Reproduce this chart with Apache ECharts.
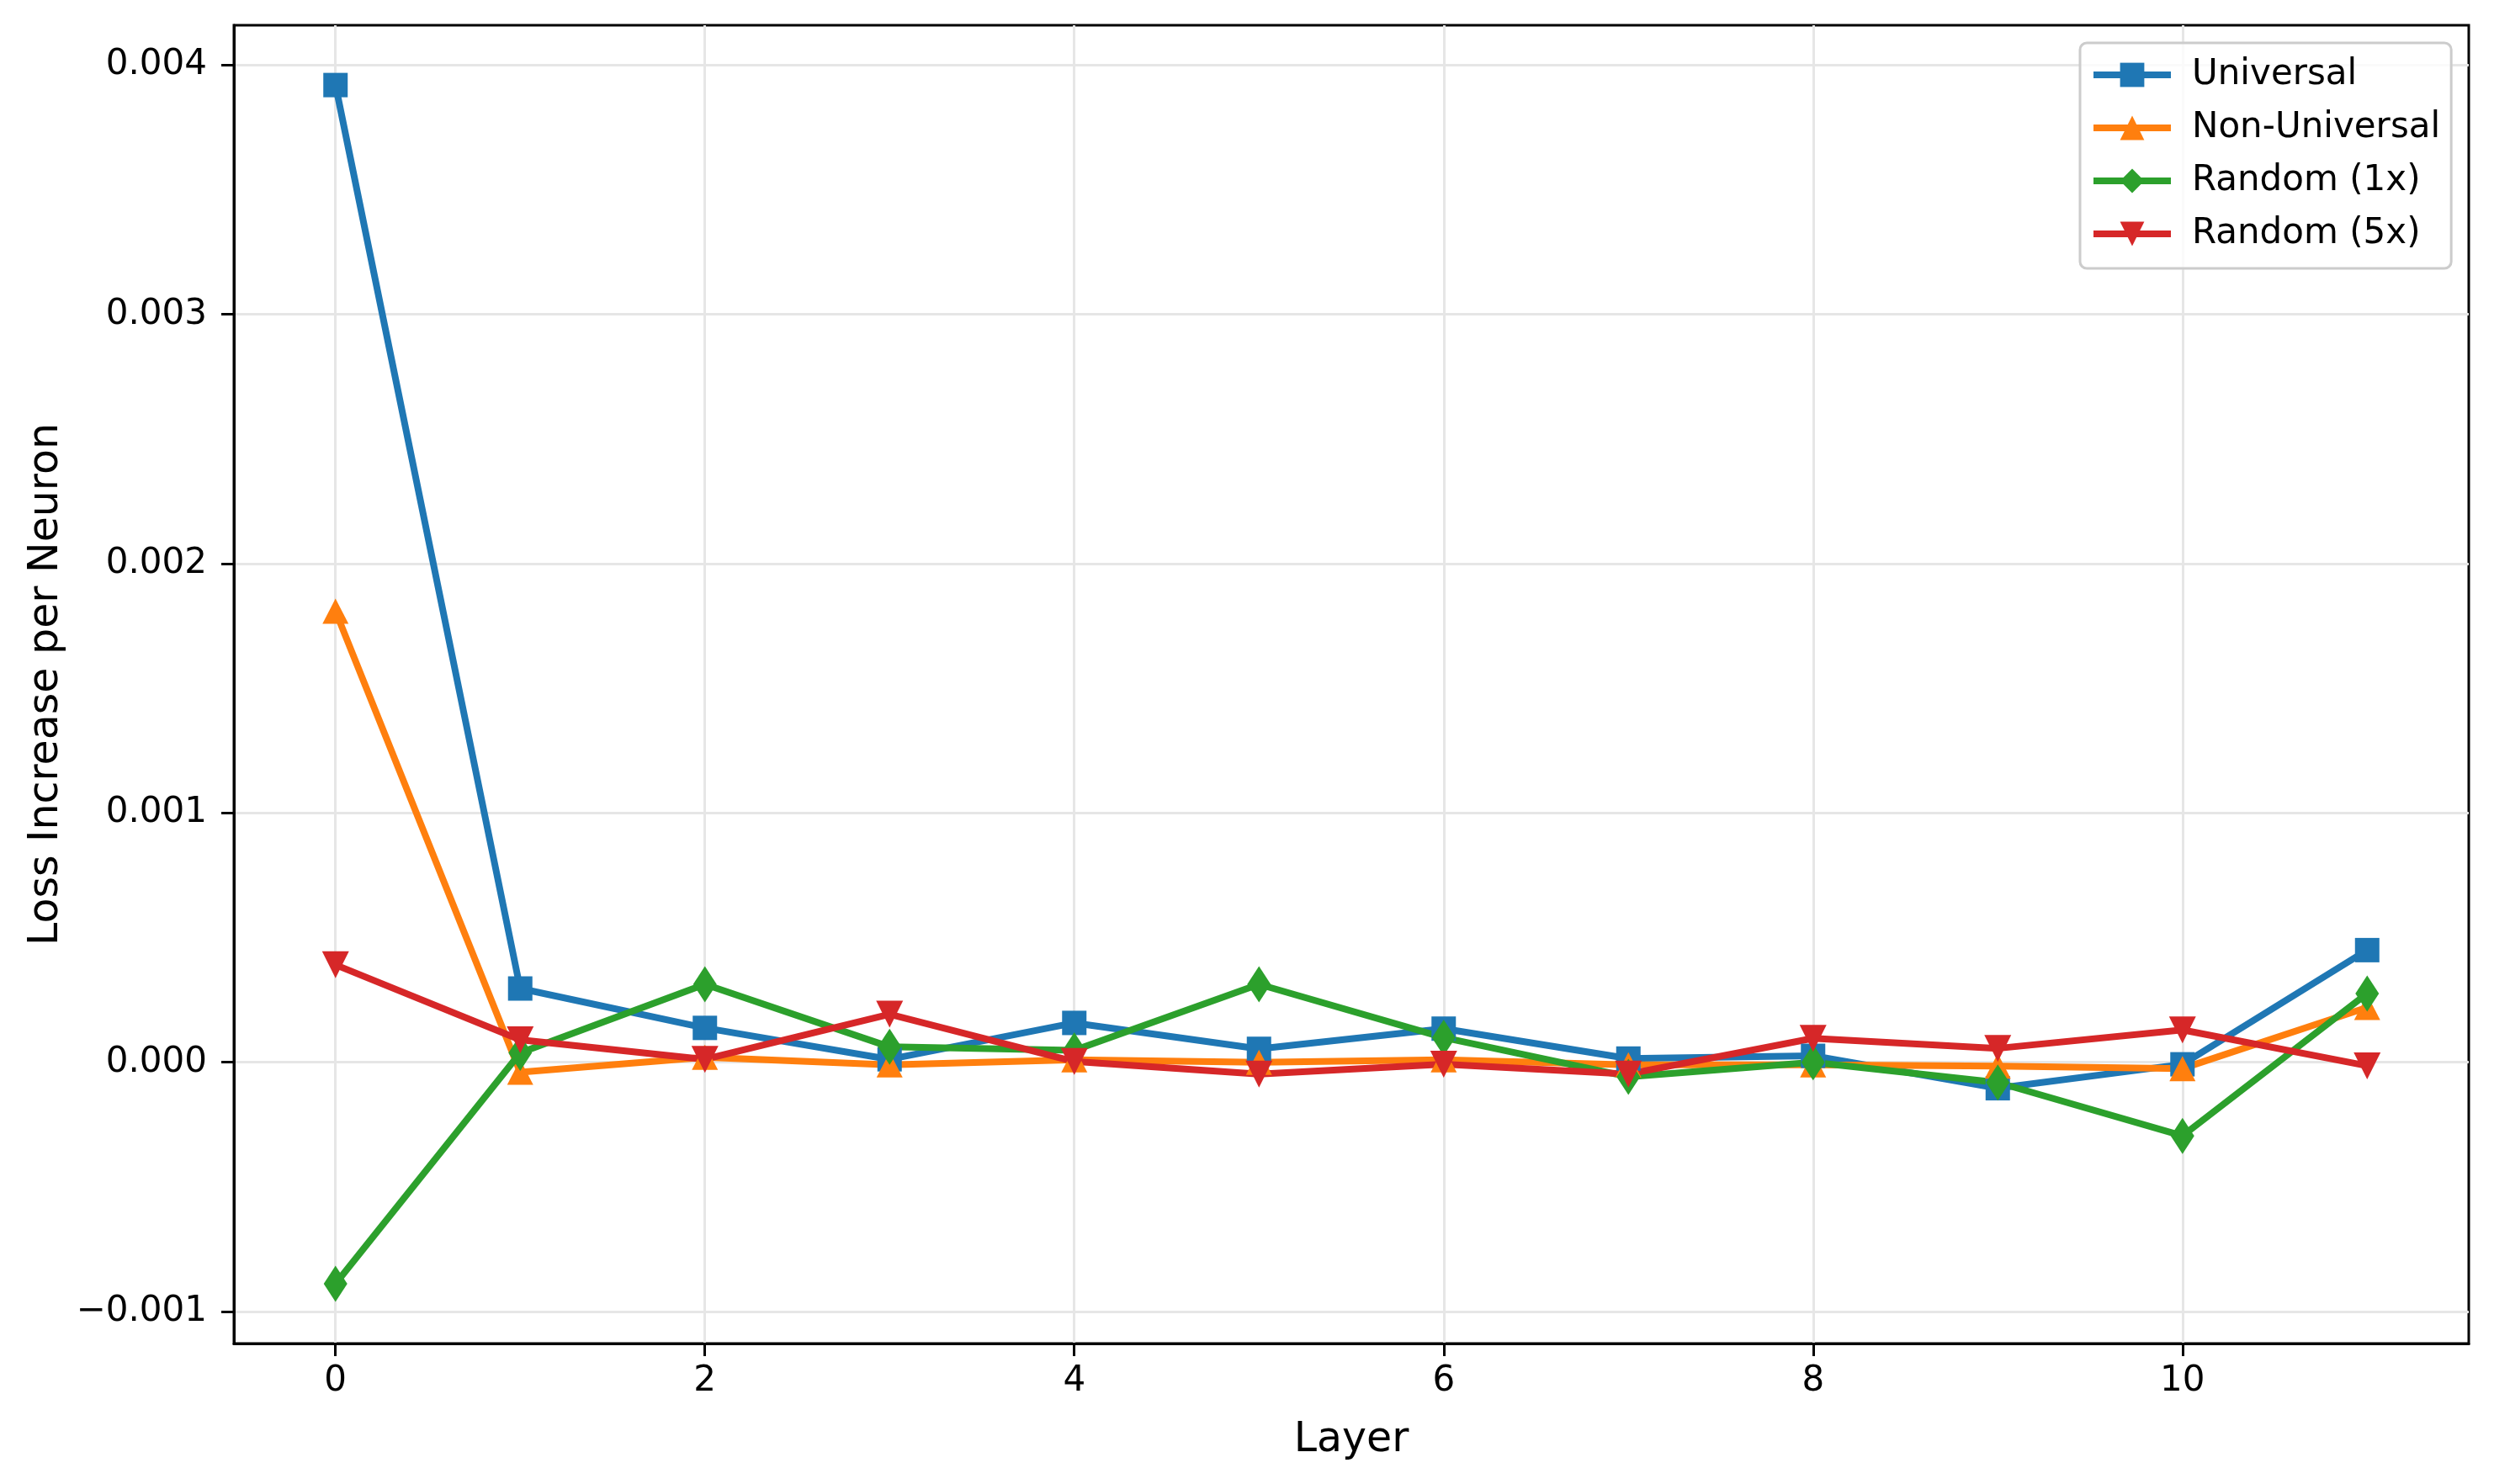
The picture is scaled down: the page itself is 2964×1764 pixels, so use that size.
<!DOCTYPE html>
<html>
<head>
<meta charset="utf-8">
<script src="https://cdn.jsdelivr.net/npm/echarts@6/dist/echarts.min.js"></script>
<style>
  html, body { margin: 0; padding: 0; background: #ffffff; }
  #chart { width: 2964px; height: 1764px; }
</style>
</head>
<body>
<div id="chart"></div>
<script>
const layers = [0, 1, 2, 3, 4, 5, 6, 7, 8, 9, 10, 11];
const xTicks = [0, 2, 4, 6, 8, 10];
const yTicks = [-0.001, 0, 0.001, 0.002, 0.003, 0.004];
const seriesNames = ['Universal', 'Non-Universal', 'Random (1x)', 'Random (5x)'];
const universal = [0.00392, 0.000296, 0.000138, 0.000012, 0.000158, 0.000054, 0.000135, 0.000015, 0.000026, -0.000104, -0.000008, 0.00045];
const nonUniversal = [0.00181, -0.00004, 0.00002, -0.00001, 0.00001, 0.0, 0.00001, -0.00001, -0.00001, -0.000015, -0.000025, 0.00022];
const random1x = [-0.000888, 0.000038, 0.000313, 0.000062, 0.000048, 0.000313, 0.000099, -0.000058, 0.0, -0.000081, -0.000295, 0.000276];
const random5x = [0.000391, 0.00009, 0.000012, 0.000193, 0.000003, -0.000047, -0.000008, -0.000047, 0.000096, 0.000056, 0.00013, -0.000014];

const FONT = 'DejaVu Sans';
const colors = ['#1f77b4', '#ff7f0e', '#2ca02c', '#d62728'];

function pairs(vals) { return layers.map((x, i) => [x, vals[i]]); }

function mkSeries(name, vals, color, symbol, size, rotate) {
  return {
    name: name,
    type: 'line',
    data: pairs(vals),
    symbol: symbol,
    symbolSize: size,
    symbolRotate: rotate || 0,
    showAllSymbol: true,
    animation: false,
    lineStyle: { color: color, width: 8, join: 'round' },
    itemStyle: { color: color, borderWidth: 0 },
    emphasis: { disabled: true }
  };
}

const chart = echarts.init(document.getElementById('chart'), null, { renderer: 'canvas' });
chart.setOption({
  animation: false,
  backgroundColor: '#ffffff',
  color: colors,
  textStyle: { fontFamily: FONT },
  grid: {
    left: 278, top: 30, right: 30, bottom: 167,
    show: true, borderColor: '#000000', borderWidth: 3, backgroundColor: 'transparent',
    outerBoundsMode: 'none'
  },
  legend: {
    orient: 'vertical',
    left: 2472, top: 51,
    padding: [17, 13, 20, 12],
    itemWidth: 92, itemHeight: 36, itemGap: 21,
    backgroundColor: 'rgba(255,255,255,0.8)',
    borderColor: '#cccccc', borderWidth: 3, borderRadius: 8,
    lineStyle: { width: 8 },
    textStyle: { fontFamily: FONT, fontSize: 42, color: '#000000', padding: [0, 0, 0, 20] },
    data: seriesNames.map((n, i) => ({ name: n, lineStyle: { width: 8, color: colors[i] } }))
  },
  xAxis: {
    type: 'value',
    min: -0.55, max: 11.55,
    name: 'Layer', nameLocation: 'middle', nameGap: 91,
    nameTextStyle: { fontFamily: FONT, fontSize: 49, color: '#000000' },
    axisLine: { show: true, onZero: false, lineStyle: { color: '#000000', width: 3 } },
    axisTick: { show: true, inside: false, length: 15, lineStyle: { color: '#000000', width: 3 }, customValues: xTicks },
    axisLabel: { show: true, fontFamily: FONT, fontSize: 42, color: '#000000', margin: 24, customValues: xTicks, formatter: v => String(v) },
    splitLine: { show: true, lineStyle: { color: '#e6e6e6', width: 3 } }
  },
  yAxis: {
    type: 'value',
    min: -0.001128, max: 0.00416,
    name: 'Loss Increase per Neuron', nameLocation: 'middle', nameGap: 198, nameRotate: 90,
    nameTextStyle: { fontFamily: FONT, fontSize: 49, color: '#000000' },
    axisLine: { show: true, onZero: false, lineStyle: { color: '#000000', width: 3 } },
    axisTick: { show: true, inside: false, length: 15, lineStyle: { color: '#000000', width: 3 }, customValues: yTicks },
    axisLabel: {
      show: true, fontFamily: FONT, fontSize: 42, color: '#000000', margin: 32, customValues: yTicks,
      formatter: v => (v < -1e-9 ? '\u2212' + Math.abs(v).toFixed(3) : Math.abs(v).toFixed(3))
    },
    splitLine: { show: true, lineStyle: { color: '#e6e6e6', width: 3 } }
  },
  series: [
    mkSeries(seriesNames[0], universal, colors[0], 'rect', 29),
    mkSeries(seriesNames[1], nonUniversal, colors[1], 'triangle', [31, 30]),
    mkSeries(seriesNames[2], random1x, colors[2], 'diamond', [28, 43]),
    mkSeries(seriesNames[3], random5x, colors[3], 'triangle', [32, 32], 180)
  ]
});
</script>
</body>
</html>
